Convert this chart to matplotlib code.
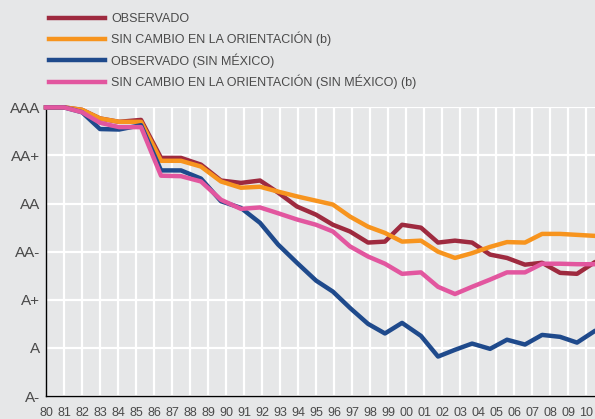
import matplotlib
matplotlib.use("Agg")
import matplotlib.pyplot as plt

plt.rcParams['font.family'] = ['Liberation Sans', 'DejaVu Sans']

# etiquetas del eje x (80 ... 10)
tick_labels = ['80', '81', '82', '83', '84', '85', '86', '87', '88', '89',
               '90', '91', '92', '93', '94', '95', '96', '97', '98', '99',
               '00', '01', '02', '03', '04', '05', '06', '07', '08', '09', '10']
ratings = ['A-', 'A', 'A+', 'AA-', 'AA', 'AA+', 'AAA']

# posición de cada observación anual sobre el eje (en unidades de etiqueta,
# leída del gráfico original: los puntos no caen justo sobre las etiquetas)
x_pos = [0.0, 1.0, 2.0, 3.0, 4.06, 5.28, 6.39, 7.5, 8.61, 9.72,
         10.83, 11.89, 12.89, 13.94, 15.0, 15.94, 16.89, 17.89, 18.83, 19.78,
         20.83, 21.78, 22.72, 23.67, 24.67, 25.61, 26.61, 27.56, 28.56, 29.5,
         30.44]

# escala de rating: A- = 0 ... AAA = 6
observado = [6.0, 6.0, 5.95, 5.77, 5.70, 5.74, 4.95, 4.95, 4.81, 4.48,
             4.43, 4.48, 4.23, 3.94, 3.77, 3.56, 3.42, 3.19, 3.21, 3.56,
             3.50, 3.19, 3.23, 3.19, 2.94, 2.87, 2.73, 2.77, 2.56, 2.54,
             2.77]
sin_cambio = [6.0, 6.0, 5.95, 5.77, 5.70, 5.70, 4.89, 4.89, 4.77, 4.46,
              4.33, 4.35, 4.25, 4.15, 4.06, 3.98, 3.73, 3.52, 3.39, 3.21,
              3.23, 3.00, 2.87, 2.97, 3.10, 3.20, 3.19, 3.37, 3.37, 3.35,
              3.33]
observado_sm = [6.0, 6.0, 5.90, 5.55, 5.54, 5.63, 4.69, 4.69, 4.52, 4.05,
                3.91, 3.60, 3.15, 2.77, 2.40, 2.17, 1.83, 1.50, 1.30, 1.52,
                1.25, 0.82, 0.96, 1.09, 0.98, 1.17, 1.07, 1.27, 1.23, 1.11,
                1.34]
sin_cambio_sm = [6.0, 6.0, 5.90, 5.68, 5.59, 5.59, 4.58, 4.57, 4.46, 4.08,
                 3.89, 3.92, 3.80, 3.67, 3.56, 3.42, 3.11, 2.90, 2.75, 2.54,
                 2.57, 2.27, 2.12, 2.27, 2.42, 2.57, 2.57, 2.75, 2.75, 2.74,
                 2.74]

bg = '#e6e7e8'
txt = '#4a4a4a'

fig = plt.figure(figsize=(5.95, 4.19), dpi=100, facecolor=bg)
ax = fig.add_axes([46 / 595, 23 / 419, 549 / 595, 288.6 / 419], facecolor=bg)

l1, = ax.plot(x_pos, observado, color='#9e2a3f', lw=3.2, clip_on=False, zorder=3)
l2, = ax.plot(x_pos, sin_cambio, color='#f7941e', lw=3.2, clip_on=False, zorder=4)
l3, = ax.plot(x_pos, observado_sm, color='#1f4a8c', lw=3.2, clip_on=False, zorder=5)
l4, = ax.plot(x_pos, sin_cambio_sm, color='#e2569f', lw=3.2, clip_on=False, zorder=6)

ax.set_xlim(0, 30.5)
ax.set_ylim(0, 6)

ax.set_xticks(range(len(tick_labels)))
ax.set_xticklabels(tick_labels, fontsize=9, color=txt)
ax.set_yticks(range(len(ratings)))
ax.set_yticklabels(ratings, fontsize=11, color=txt)
ax.tick_params(length=0)
ax.tick_params(axis='y', pad=4)
ax.tick_params(axis='x', pad=8)

ax.grid(True, color='white', lw=1.6, zorder=0)
ax.set_axisbelow(True)
for s in ['top', 'right']:
    ax.spines[s].set_visible(False)
for s in ['left', 'bottom']:
    ax.spines[s].set_color('black')
    ax.spines[s].set_linewidth(1)
    ax.spines[s].set_zorder(2)

fig.legend([l1, l2, l3, l4],
           ['OBSERVADO', 'SIN CAMBIO EN LA ORIENTACIÓN (b)',
            'OBSERVADO (SIN MÉXICO)', 'SIN CAMBIO EN LA ORIENTACIÓN (SIN MÉXICO) (b)'],
           loc='upper left', bbox_to_anchor=(49 / 595, 1 - 13 / 419),
           frameon=False, fontsize=9, labelcolor=txt,
           handlelength=4.5, handletextpad=0.48, labelspacing=0.55,
           borderpad=0, borderaxespad=0)

fig.savefig('out.png', dpi=100, facecolor=bg)
